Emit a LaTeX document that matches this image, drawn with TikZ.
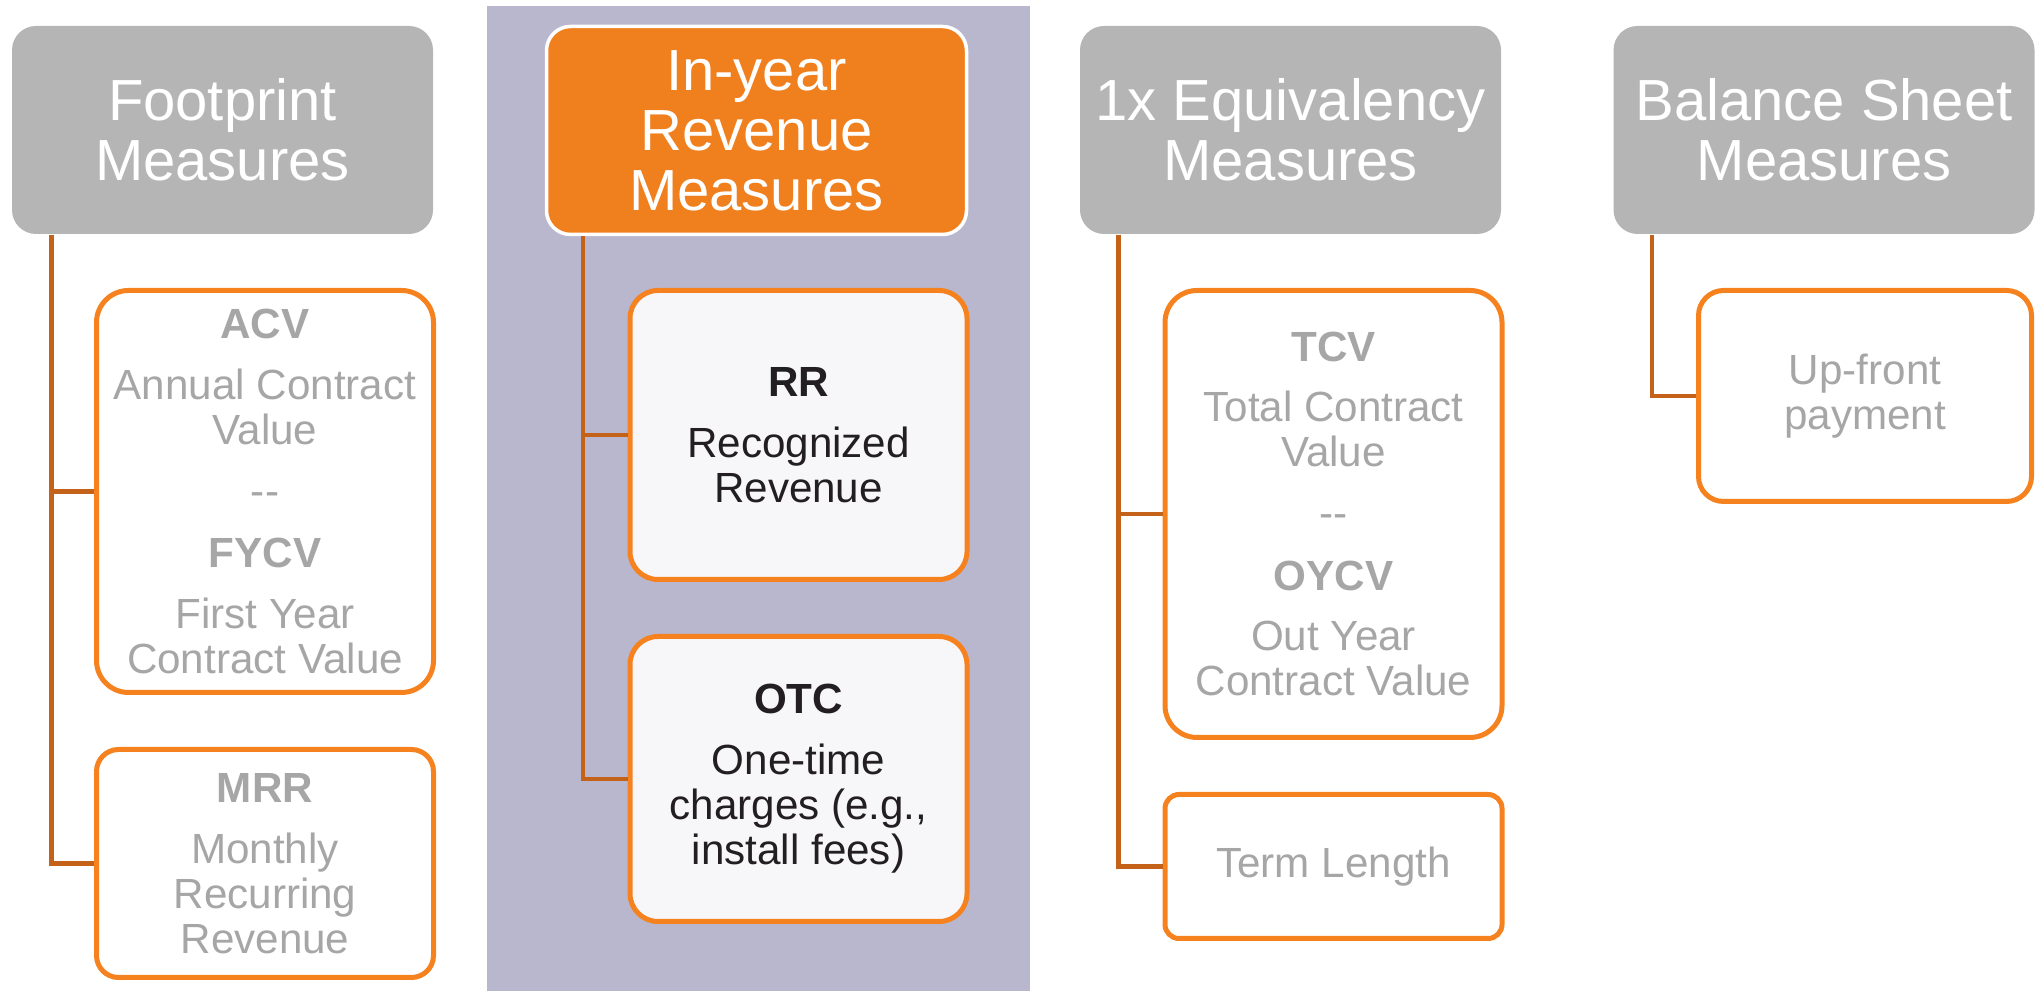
\documentclass[tikz,border=0pt]{standalone}
\usepackage{fontspec}
\setmainfont{Liberation Sans}
\usetikzlibrary{positioning,calc}

\definecolor{headgray}{HTML}{B5B5B5}
\definecolor{headorange}{HTML}{F07F1D}
\definecolor{boxorange}{HTML}{F5821F}
\definecolor{linkbrown}{HTML}{C4621A}
\definecolor{lilac}{HTML}{B8B7CE}
\definecolor{textgray}{HTML}{A6A6A6}
\definecolor{inkblack}{HTML}{231F20}
\definecolor{paleface}{HTML}{F7F7F9}

\tikzset{
  head/.style={fill=headgray, text=white, rounded corners=0.24cm,
    minimum width=4.21cm, minimum height=2.08cm, align=center, inner sep=0pt,
    font=\fontsize{16.5}{17.1}\selectfont},
  measure/.style={draw=boxorange, line width=0.05cm, fill=white, text=textgray,
    minimum width=3.37cm, align=center, inner sep=0pt,
    font=\fontsize{12}{12.8}\selectfont},
  link/.style={draw=linkbrown, line width=0.045cm},
}

\begin{document}
\begin{tikzpicture}
    \useasboundingbox (0,0) rectangle (20.36,9.91);

    % highlighted column
    \fill[lilac] (4.87,0) rectangle (10.30,9.85);

    % headers
    \node[head] (h1) at (2.225,8.61) {Footprint\\Measures};
    \node[head, fill=headorange, draw=white, line width=0.035cm, minimum width=4.20cm]
        (h2) at (7.565,8.605) {In-year\\Revenue\\Measures};
    \node[head] (h3) at (12.905,8.61) {1x Equivalency\\Measures};
    \node[head] (h4) at (18.24,8.61) {Balance Sheet\\Measures};

    % measures
    \node[measure, minimum height=4.02cm, rounded corners=0.32cm] (acv) at (2.65,4.995)
        {\textbf{ACV}\\[4.5pt]Annual Contract\\Value\\[4.5pt]-{}-\\[5pt]\textbf{FYCV}\\[4.5pt]First Year\\Contract Value};
    \node[measure, minimum height=2.28cm, rounded corners=0.22cm] (mrr) at (2.65,1.275)
        {\textbf{MRR}\\[4.5pt]Monthly\\Recurring\\Revenue};

    \node[measure, fill=paleface, text=inkblack, minimum height=2.89cm, rounded corners=0.28cm]
        (rr) at (7.985,5.56) {\textbf{RR}\\[4.5pt]Recognized\\Revenue};
    \node[measure, fill=paleface, text=inkblack, minimum height=2.85cm, rounded corners=0.28cm]
        (otc) at (7.985,2.12) {\textbf{OTC}\\[4.5pt]One-time\\charges (e.g.,\\install fees)};

    \node[measure, minimum height=4.47cm, rounded corners=0.32cm] (tcv) at (13.335,4.77)
        {\textbf{TCV}\\[4.5pt]Total Contract\\Value\\[4.5pt]-{}-\\[5pt]\textbf{OYCV}\\[4.5pt]Out Year\\Contract Value};
    \node[measure, minimum height=1.44cm, rounded corners=0.14cm] (term) at (13.335,1.245)
        {Term Length};

    \node[measure, minimum width=3.33cm, minimum height=2.11cm, rounded corners=0.25cm]
        (upf) at (18.65,5.95) {Up-front\\payment};

    % tree lines
    \coordinate (t1) at ([xshift=0.40cm]h1.south west);
    \coordinate (t2) at ([xshift=0.38cm]h2.south west);
    \coordinate (t3) at ([xshift=0.39cm]h3.south west);
    \coordinate (t4) at ([xshift=0.39cm]h4.south west);

    \draw[link] (t1) |- (acv.west);
    \draw[link] (t1) |- (mrr.west);
    \draw[link] (t2) |- (rr.west);
    \draw[link] (t2) |- (otc.west);
    \draw[link] (t3) |- (tcv.west);
    \draw[link] (t3) |- (term.west);
    \draw[link] (t4) |- (upf.west);
\end{tikzpicture}
\end{document}
